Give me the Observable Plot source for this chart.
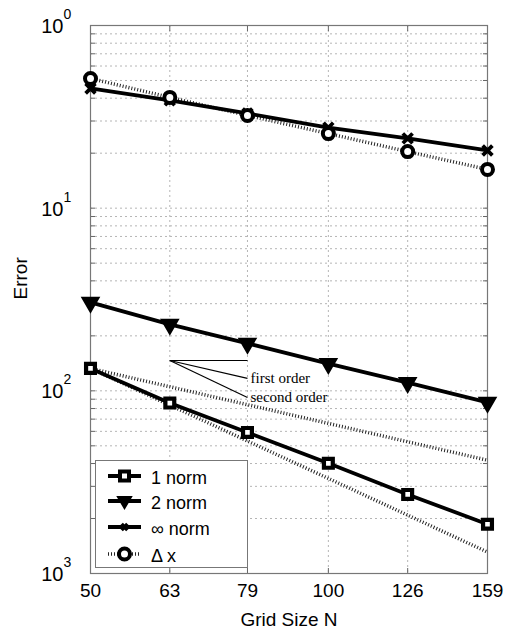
<!DOCTYPE html>
<html><head><meta charset="utf-8">
<script src="https://cdn.jsdelivr.net/npm/d3@7"></script>
<script src="https://cdn.jsdelivr.net/npm/@observablehq/plot@0.6"></script>
<style>
body{margin:0;background:#fff;}
#wrap{position:relative;width:506px;height:630px;overflow:hidden;}
#legend{position:absolute;left:95px;top:460px;width:153px;height:108px;border:1px solid #777;background:#fff;box-sizing:border-box;font-family:"Liberation Sans",Arial,sans-serif;font-size:18px;color:#000;}
.row{position:absolute;left:0;height:24px;width:150px;}
.row svg{position:absolute;left:10px;top:0;}
.row span{position:absolute;left:55px;top:2px;line-height:20px;}
</style>
</head><body>
<div id="wrap"><div id="chart"></div><div id="legend"></div></div>
<script>
// ---- data ----
const gridN = [50, 63, 79, 100, 126, 159];
const xTickLabels = ["50", "63", "79", "100", "126", "159"];
const norm1 = [0.01327, 0.00857, 0.00592, 0.00401, 0.00271, 0.00186];
const norm2 = [0.0305, 0.0231, 0.0182, 0.0141, 0.0111, 0.00864];
const normInf = [0.452, 0.389, 0.330, 0.276, 0.241, 0.207];
const deltaX = [0.513, 0.404, 0.322, 0.256, 0.204, 0.163];
const refN = [50, 159];
const firstOrderRef = [0.01327, 0.00417];
const secondOrderRef = [0.01327, 0.00131];
const slopeN = [63, 79];
const slopeValues = [0.01466, 0.01169, 0.00920]; // base, first order end, second order end
const slopeLabels = ["first order", "second order"];
const yTicks = [1, 0.1, 0.01, 0.001];
const yTickExp = ["0", "1", "2", "3"];
const seriesNames = ["1 norm", "2 norm", "\u221E norm", "\u0394 x"];

// ---- build ----
const rows = (vals) => gridN.map((n, i) => ({n, v: vals[i]}));
const refRows = (vals) => refN.map((n, i) => ({n, v: vals[i]}));
const minorY = d3.scaleLog().domain([0.001, 1]).ticks();
const innerX = gridN.slice(1, -1);
const slopeLinks = [
  {x1: slopeN[0], y1: slopeValues[0], x2: slopeN[1], y2: slopeValues[0]},
  {x1: slopeN[0], y1: slopeValues[0], x2: slopeN[1], y2: slopeValues[1]},
  {x1: slopeN[0], y1: slopeValues[0], x2: slopeN[1], y2: slopeValues[2]}
];
const slopeText = [
  {x: slopeN[1], y: slopeValues[1], t: slopeLabels[0]},
  {x: slopeN[1], y: slopeValues[2], t: slopeLabels[1]}
];
const dotted = {stroke: "#222", strokeWidth: 3.5, strokeDasharray: "1,2", strokeLinecap: "butt", strokeLinejoin: "miter"};
const solid = {stroke: "#000", strokeWidth: 3.8};

const chart = Plot.plot({
  width: 506, height: 630,
  marginLeft: 90, marginRight: 19, marginTop: 25, marginBottom: 57,
  style: {fontFamily: "Liberation Sans, Arial, sans-serif", fontSize: "18px", background: "#fff", color: "#000"},
  x: {type: "log", domain: [50, 159]},
  y: {type: "log", domain: [0.001, 1]},
  marks: [
    Plot.ruleY(minorY, {stroke: "#b5b5b5", strokeWidth: 1, strokeDasharray: "2,3"}),
    Plot.ruleX(innerX, {stroke: "#b5b5b5", strokeWidth: 1, strokeDasharray: "2,3"}),
    Plot.axisY({ticks: minorY, tickSize: -5, tickFormat: () => "", label: null, stroke: "#666"}),
    Plot.axisY({anchor: "right", ticks: minorY, tickSize: -5, tickFormat: () => "", label: null, stroke: "#666"}),
    Plot.axisX({ticks: gridN, tickSize: -5, tickFormat: () => "", label: null, stroke: "#666"}),
    Plot.axisX({anchor: "top", ticks: gridN, tickSize: -5, tickFormat: () => "", label: null, stroke: "#666"}),
    Plot.axisX({ticks: gridN, tickSize: 0, tickPadding: 10, tickFormat: d => xTickLabels[gridN.indexOf(d)], fontSize: 19, label: null}),
    Plot.text(yTicks, {y: d => d, frameAnchor: "left", text: () => "10", textAnchor: "end", dx: -27, dy: 1, fontSize: 20}),
    Plot.text(yTicks, {y: d => d, frameAnchor: "left", text: (d, i) => yTickExp[i], textAnchor: "start", dx: -27, dy: -11, fontSize: 14}),
    Plot.text(["Error"], {frameAnchor: "left", text: d => d, rotate: -90, dx: -70, fontSize: 19}),
    Plot.text(["Grid Size N"], {frameAnchor: "bottom", text: d => d, dy: 52, fontSize: 19}),
    Plot.frame({stroke: "#777", strokeWidth: 1.2}),
    // reference order lines
    Plot.line(refRows(firstOrderRef), {x: "n", y: "v", ...dotted}),
    Plot.line(refRows(secondOrderRef), {x: "n", y: "v", ...dotted}),
    // slope triangle
    Plot.link(slopeLinks, {x1: "x1", y1: "y1", x2: "x2", y2: "y2", stroke: "#000", strokeWidth: 1.2}),
    Plot.text(slopeText, {x: "x", y: "y", text: "t", textAnchor: "start", dx: 3, fontFamily: "Liberation Serif, Times New Roman, serif", fontSize: 15}),
    // data
    Plot.line(rows(deltaX), {x: "n", y: "v", ...dotted}),
    Plot.line(rows(normInf), {x: "n", y: "v", ...solid}),
    Plot.line(rows(norm2), {x: "n", y: "v", ...solid}),
    Plot.line(rows(norm1), {x: "n", y: "v", ...solid}),
    Plot.dot(rows(norm1), {x: "n", y: "v", symbol: "square", r: 5, fill: "#fff", stroke: "#000", strokeWidth: 4.2}),
    Plot.dot(rows(norm2), {x: "n", y: "v", symbol: "triangle", rotate: 180, r: 6, fill: "#000", stroke: "#000", strokeWidth: 2}),
    Plot.dot(rows(normInf), {x: "n", y: "v", symbol: "times", r: 4.5, stroke: "#000", strokeWidth: 3.8}),
    Plot.dot(rows(deltaX), {x: "n", y: "v", symbol: "circle", r: 5.5, fill: "#fff", stroke: "#000", strokeWidth: 4})
  ]
});
document.getElementById("chart").appendChild(chart);

// ---- legend ----
const markerSvg = [
  '<line x1="2" y1="10" x2="35" y2="10" stroke="#000" stroke-width="3.8"/><rect x="14" y="5.5" width="9" height="9" fill="#fff" stroke="#000" stroke-width="4"/>',
  '<line x1="2" y1="10" x2="35" y2="10" stroke="#000" stroke-width="3.8"/><path d="M12,6 L25,6 L18.5,17 Z" fill="#000" stroke="#000" stroke-width="2"/>',
  '<line x1="2" y1="10" x2="35" y2="10" stroke="#000" stroke-width="3.8"/><path d="M15.5,7 L21.5,13 M21.5,7 L15.5,13" stroke="#000" stroke-width="3.8"/>',
  '<line x1="2" y1="10" x2="35" y2="10" stroke="#222" stroke-width="3.5" stroke-dasharray="1,2"/><circle cx="18.5" cy="10" r="5.5" fill="#fff" stroke="#000" stroke-width="4"/>'
];
const rowTops = [5, 30, 56, 83];
const legend = document.getElementById("legend");
seriesNames.forEach((name, i) => {
  const r = document.createElement("div");
  r.className = "row";
  r.style.top = rowTops[i] + "px";
  r.innerHTML = '<svg width="40" height="20" viewBox="0 0 40 20">' + markerSvg[i] + '</svg><span>' + name + '</span>';
  legend.appendChild(r);
});
</script>
</body></html>
